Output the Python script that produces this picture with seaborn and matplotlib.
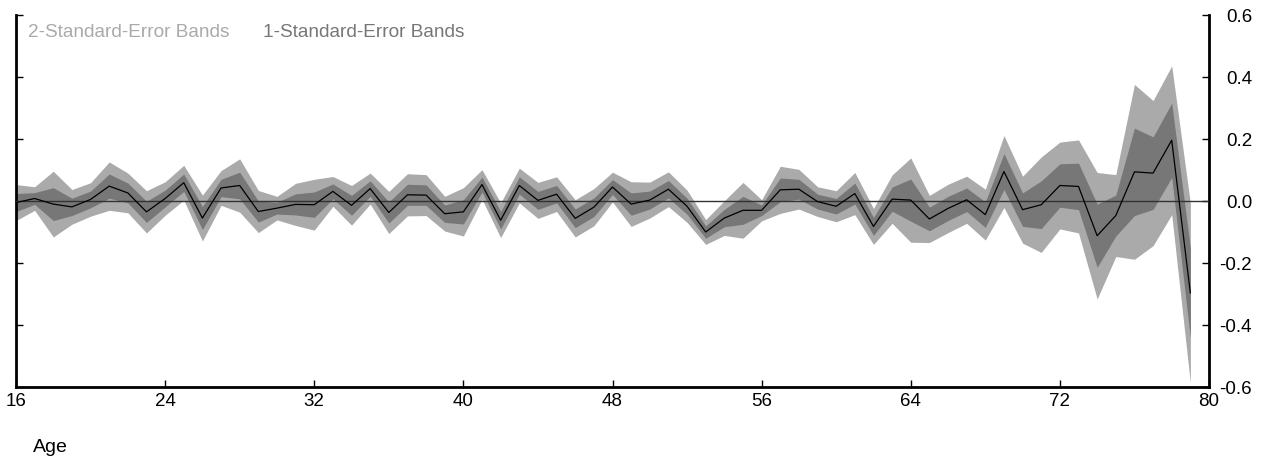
import numpy as np
import pandas as pd
import matplotlib
matplotlib.use("Agg")
import matplotlib.pyplot as plt
import seaborn as sns

# age profile estimates with standard errors
ages = list(range(16, 80))
estimate = [
    -0.005, 0.008, -0.010, -0.019, 0.005, 0.048, 0.026, -0.035, 0.008, 0.059,
    -0.055, 0.042, 0.050, -0.034, -0.023, -0.011, -0.012, 0.031, -0.014, 0.040,
    -0.037, 0.020, 0.019, -0.041, -0.035, 0.053, -0.062, 0.050, 0.002, 0.022,
    -0.056, -0.020, 0.045, -0.010, 0.003, 0.038, -0.017, -0.100, -0.055, -0.030,
    -0.030, 0.036, 0.038, -0.002, -0.017, 0.024, -0.082, 0.006, 0.003, -0.058,
    -0.024, 0.004, -0.044, 0.095, -0.028, -0.012, 0.050, 0.047, -0.112, -0.047,
    0.094, 0.090, 0.196, -0.297,
]
std_err = [
    0.029, 0.019, 0.053, 0.028, 0.027, 0.039, 0.032, 0.034, 0.027, 0.028,
    0.037, 0.028, 0.043, 0.034, 0.019, 0.034, 0.041, 0.024, 0.032, 0.025,
    0.034, 0.034, 0.033, 0.028, 0.039, 0.024, 0.028, 0.028, 0.029, 0.028,
    0.030, 0.030, 0.024, 0.036, 0.029, 0.028, 0.026, 0.020, 0.028, 0.045,
    0.017, 0.038, 0.032, 0.024, 0.025, 0.034, 0.029, 0.039, 0.068, 0.038,
    0.039, 0.038, 0.041, 0.058, 0.054, 0.077, 0.070, 0.075, 0.102, 0.066,
    0.141, 0.117, 0.120, 0.145,
]
x_ticks = [16, 24, 32, 40, 48, 56, 64, 72, 80]
y_ticks = [-0.6, -0.4, -0.2, 0.0, 0.2, 0.4, 0.6]

df = pd.DataFrame({"age": ages, "est": estimate, "se": std_err})

sns.set_theme(style="white")
plt.rcParams['font.family'] = ['Liberation Sans', 'DejaVu Sans']

light = "#aaaaaa"
dark = "#777777"

fig = plt.figure(figsize=(12.7, 4.62), dpi=100)
ax = fig.add_axes([16 / 1270, 75 / 462, (1209 - 16) / 1270, (387 - 15) / 462])

ax.fill_between(df["age"], df["est"] - 2 * df["se"], df["est"] + 2 * df["se"],
                color=light, lw=0, zorder=1)
ax.fill_between(df["age"], df["est"] - df["se"], df["est"] + df["se"],
                color=dark, lw=0, zorder=2)
ax.axhline(0, color="#333333", lw=1.0, zorder=3)
sns.lineplot(data=df, x="age", y="est", color="black", lw=0.9, ax=ax, zorder=4)

ax.set_xlim(16, 80)
ax.set_ylim(-0.6, 0.6)
ax.set_xticks(x_ticks)
ax.set_xticklabels([str(t) for t in x_ticks], fontsize=13.5)
ax.set_yticks(y_ticks)
ax.set_yticklabels([f"{t:.1f}" for t in y_ticks], fontsize=13.5)
ax.yaxis.tick_right()
ax.tick_params(axis="y", which="both", direction="in", length=5, width=1,
               left=True, right=True, labelleft=False, labelright=True,
               pad=31, colors="black")
for lab in ax.get_yticklabels():
    lab.set_horizontalalignment("right")
ax.tick_params(axis="x", direction="in", length=5, width=1, bottom=True,
               pad=4, colors="black")
ax.set_xlabel("")
ax.set_ylabel("")

for side in ["left", "right", "bottom"]:
    ax.spines[side].set_visible(True)
    ax.spines[side].set_color("black")
    ax.spines[side].set_linewidth(2)
ax.spines["top"].set_visible(False)

# legend as coloured text
ax.text(0.01, 0.952, "2-Standard-Error Bands", transform=ax.transAxes,
        color=light, fontsize=13.7, ha="left", va="center")
ax.text(0.207, 0.952, "1-Standard-Error Bands", transform=ax.transAxes,
        color=dark, fontsize=13.7, ha="left", va="center")

fig.text(33 / 1270, 1 - 447 / 462, "Age", fontsize=14, ha="left", va="center",
         color="black")

fig.savefig("out.png", dpi=100)
